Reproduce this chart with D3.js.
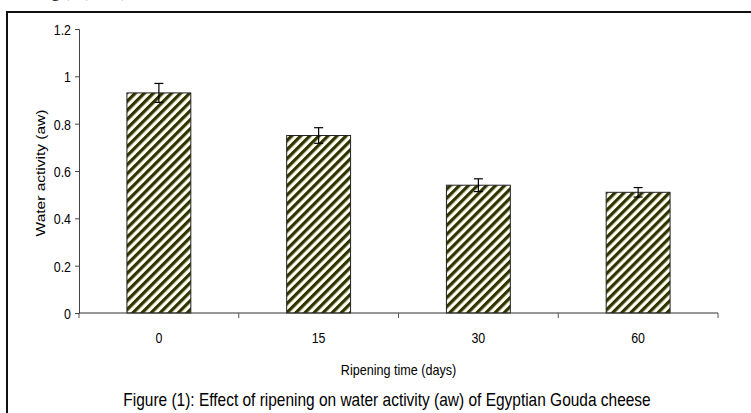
<!DOCTYPE html>
<html>
<head>
<meta charset="utf-8">
<script src="https://cdn.jsdelivr.net/npm/d3@7/dist/d3.min.js"></script>
<style>
  body { margin: 0; background: #fff; }
  svg { display: block; }
  text { font-family: "Liberation Sans Narrow", "Arial Narrow", "Liberation Sans", Arial, sans-serif; fill: #000; }
</style>
</head>
<body>
<svg id="chart" width="751" height="413"></svg>
<script>
// ripening time (days) and water activity with error
var days = ['0', '15', '30', '60'];
var aw = [0.93, 0.75, 0.54, 0.51];
var awErr = [0.04, 0.033, 0.027, 0.02];
var yTicks = [0, 0.2, 0.4, 0.6, 0.8, 1, 1.2];

var svg = d3.select('#chart');

// the source image is squeezed sideways, so texts get a horizontal scale
function squeeze(x, y, sx) {
  return 'translate(' + x + ',' + y + ') scale(' + sx + ',1)';
}

// clipped line of text from the page above the figure
svg.append('text')
  .attr('x', 44).attr('y', -2.8)
  .style('font-family', '"Liberation Serif", "Times New Roman", serif')
  .style('font-size', '17px')
  .text('age), (1993)');

// figure frame (only left + top visible in the crop)
svg.append('path')
  .attr('d', 'M7,420V12H760')
  .attr('fill', 'none')
  .attr('stroke', '#111')
  .attr('stroke-width', 2);

var defs = svg.append('defs');
var pat = defs.append('pattern')
  .attr('id', 'hatch')
  .attr('patternUnits', 'userSpaceOnUse')
  .attr('width', 6.4).attr('height', 6.4)
  .attr('patternTransform', 'rotate(45)');
pat.append('rect').attr('width', 6.4).attr('height', 6.4).attr('fill', '#fffff2');
pat.append('rect').attr('width', 3.2).attr('height', 6.4).attr('fill', '#2e3300');

var plotL = 79, plotR = 718, plotT = 29, plotB = 313;

var x = d3.scaleBand().domain(days).range([plotL, plotR])
  .paddingInner(0.6).paddingOuter(0.3);
var y = d3.scaleLinear().domain([0, 1.2]).range([plotB, plotT]);

// y axis
var yAxis = svg.append('g')
  .attr('transform', 'translate(' + plotL + ',0)')
  .call(d3.axisLeft(y).tickValues(yTicks).tickSize(4).tickPadding(4)
    .tickFormat(function(d){ return d; }));
yAxis.attr('font-size', 15).attr('font-family', null);
yAxis.select('.domain').attr('stroke', '#444');
yAxis.selectAll('.tick line').attr('stroke', '#444');
yAxis.selectAll('.tick text')
  .attr('x', null).attr('dy', null)
  .attr('transform', squeeze(-8, 5.5, 0.8))
  .style('font-size', '15.5px').attr('fill', '#000');

// bars
svg.append('g').selectAll('rect').data(days).enter().append('rect')
  .attr('x', function(d){ return x(d); })
  .attr('y', function(d, i){ return y(aw[i]); })
  .attr('width', x.bandwidth())
  .attr('height', function(d, i){ return y(0) - y(aw[i]); })
  .attr('fill', 'url(#hatch)')
  .attr('stroke', '#222')
  .attr('stroke-width', 1);

// error bars
var eb = svg.append('g').attr('stroke', '#000').attr('stroke-width', 1.2);
days.forEach(function(d, i){
  var cx = x(d) + x.bandwidth() / 2;
  var y1 = y(aw[i] + awErr[i]), y0 = y(aw[i] - awErr[i]);
  eb.append('line').attr('x1', cx).attr('x2', cx).attr('y1', y1).attr('y2', y0);
  eb.append('line').attr('x1', cx - 4.5).attr('x2', cx + 4.5).attr('y1', y1).attr('y2', y1);
  eb.append('line').attr('x1', cx - 4.5).attr('x2', cx + 4.5).attr('y1', y0).attr('y2', y0);
});

// x axis: line with ticks at category boundaries
var step = x.step();
var bounds = d3.range(days.length + 1).map(function(i){ return plotL + i * step; });
var xg = svg.append('g');
xg.append('line').attr('x1', plotL).attr('x2', plotR).attr('y1', y(0)).attr('y2', y(0))
  .attr('stroke', '#333').attr('stroke-width', 1.2);
xg.selectAll('line.tk').data(bounds).enter().append('line').attr('class', 'tk')
  .attr('x1', function(d){ return d; }).attr('x2', function(d){ return d; })
  .attr('y1', y(0)).attr('y2', y(0) + 5)
  .attr('stroke', '#555');
xg.selectAll('text').data(days).enter().append('text')
  .attr('transform', function(d){ return squeeze(x(d) + x.bandwidth() / 2, y(0) + 30, 0.8); })
  .attr('text-anchor', 'middle')
  .style('font-size', '15.5px')
  .text(function(d){ return d; });

// axis titles
svg.append('text')
  .attr('transform', 'translate(45,' + ((plotT + plotB) / 2 + 2) + ') rotate(-90) scale(1,0.85)')
  .attr('text-anchor', 'middle')
  .style('font-size', '15.5px')
  .text('Water activity (aw)');

svg.append('text')
  .attr('transform', squeeze((plotL + plotR) / 2, 375, 0.9))
  .attr('text-anchor', 'middle')
  .style('font-size', '14px')
  .text('Ripening time (days)');

// caption
svg.append('text')
  .attr('transform', squeeze(387, 406, 0.86))
  .attr('text-anchor', 'middle')
  .style('font-size', '18px')
  .text('Figure (1): Effect of ripening on water activity (aw) of Egyptian Gouda cheese');
</script>
</body>
</html>
